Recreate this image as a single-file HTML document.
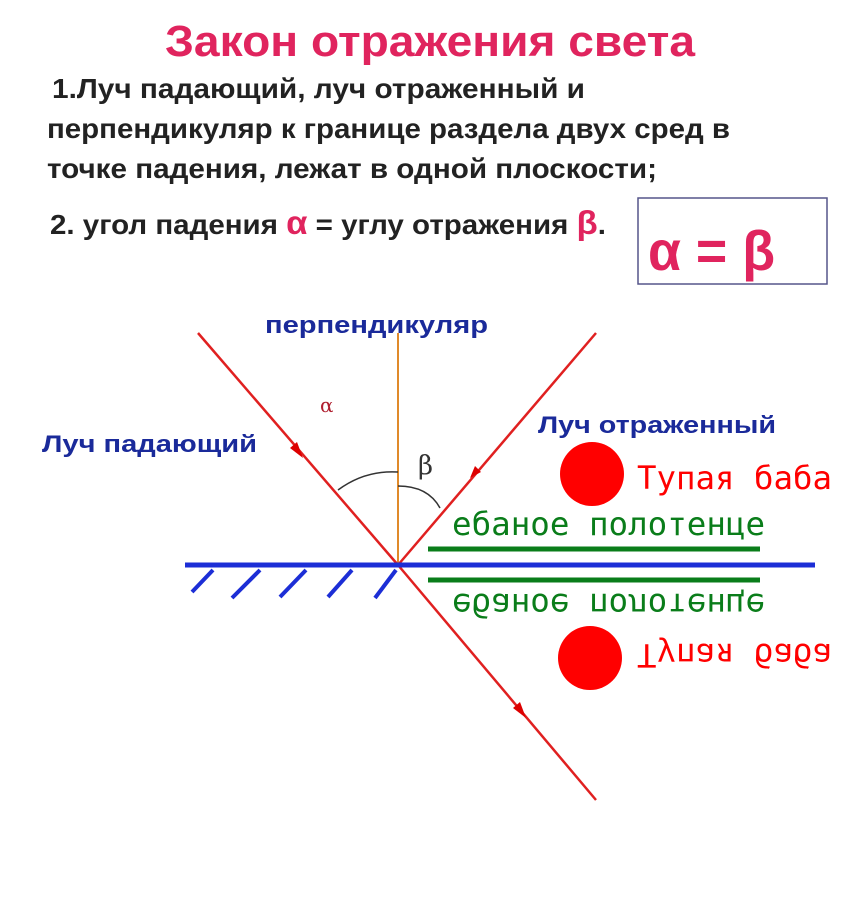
<!DOCTYPE html>
<html><head><meta charset="utf-8"><style>
html,body{margin:0;padding:0;background:#fff;}
svg{display:block}
</style></head><body>
<svg width="853" height="900" viewBox="0 0 853 900" xmlns="http://www.w3.org/2000/svg">
<text x="165" y="56" textLength="530" lengthAdjust="spacingAndGlyphs" font-family="Liberation Sans, sans-serif" font-weight="bold" font-size="44" fill="#e0245e">Закон отражения света</text>
<g font-family="Liberation Sans, sans-serif" font-weight="bold" font-size="28" fill="#222">
<text x="52" y="98" textLength="533" lengthAdjust="spacingAndGlyphs">1.Луч падающий, луч отраженный и</text>
<text x="47" y="138" textLength="683" lengthAdjust="spacingAndGlyphs">перпендикуляр к границе раздела двух сред в</text>
<text x="47" y="178" textLength="610" lengthAdjust="spacingAndGlyphs">точке падения, лежат в одной плоскости;</text>
<text x="50" y="234" textLength="556" lengthAdjust="spacingAndGlyphs">2. угол падения <tspan fill="#e0245e" font-size="33">α</tspan> = углу отражения <tspan fill="#e0245e" font-size="33">β</tspan>.</text>
</g>
<rect x="638" y="198" width="189" height="86" fill="#fff" stroke="#55558a" stroke-width="1.5"/>
<text x="648" y="270" textLength="127" lengthAdjust="spacingAndGlyphs" font-family="Liberation Sans, sans-serif" font-weight="bold" font-size="56" fill="#e0245e">α = β</text>

<line x1="398" y1="333" x2="398" y2="565" stroke="#e08a2a" stroke-width="2"/>
<line x1="198" y1="333" x2="398" y2="565" stroke="#e02020" stroke-width="2.5"/>
<line x1="398" y1="565" x2="596" y2="333" stroke="#e02020" stroke-width="2.5"/>
<line x1="398" y1="565" x2="596" y2="800" stroke="#e02020" stroke-width="2.5"/>
<polygon points="303,458 290,448 297,442" fill="#d00"/>
<polygon points="470,478 475,466 481,472" fill="#d00"/>
<polygon points="526,718 513,708 520,702" fill="#d00"/>
<path d="M338 490 Q365 470 398 472" fill="none" stroke="#333" stroke-width="1.5"/>
<path d="M398 486 Q428 486 440 508" fill="none" stroke="#333" stroke-width="1.5"/>
<text x="320" y="412" font-family="DejaVu Serif, serif" font-size="20" fill="#b02030">α</text>
<text x="418" y="474" font-family="DejaVu Serif, serif" font-size="26" fill="#333">β</text>
<g font-family="Liberation Sans, sans-serif" font-weight="bold" font-size="24" fill="#1a2a9a">
<text x="265" y="333" textLength="223" lengthAdjust="spacingAndGlyphs">перпендикуляр</text>
<text x="42" y="452" textLength="215" lengthAdjust="spacingAndGlyphs">Луч падающий</text>
<text x="538" y="433" textLength="238" lengthAdjust="spacingAndGlyphs">Луч отраженный</text>
</g>
<line x1="185" y1="565" x2="815" y2="565" stroke="#1c2ed6" stroke-width="5"/>
<g stroke="#1c2ed6" stroke-width="4">
<line x1="213" y1="570" x2="192" y2="592"/>
<line x1="260" y1="570" x2="232" y2="598"/>
<line x1="306" y1="570" x2="280" y2="597"/>
<line x1="352" y1="570" x2="328" y2="597"/>
<line x1="396" y1="570" x2="375" y2="598"/>
</g>
<line x1="428" y1="549" x2="760" y2="549" stroke="#0a7d1a" stroke-width="5"/>
<line x1="428" y1="580" x2="760" y2="580" stroke="#0a7d1a" stroke-width="5"/>
<text x="452" y="535" textLength="313" lengthAdjust="spacingAndGlyphs" font-family="DejaVu Sans Mono, monospace" font-size="32" fill="#0a7d1a">ебаное полотенце</text>
<g transform="translate(0,1129) scale(1,-1)">
<text x="452" y="535" textLength="313" lengthAdjust="spacingAndGlyphs" font-family="DejaVu Sans Mono, monospace" font-size="32" fill="#0a7d1a">ебаное полотенце</text>
</g>
<circle cx="592" cy="474" r="32" fill="#f00"/>
<circle cx="590" cy="658" r="32" fill="#f00"/>
<text x="637" y="489" textLength="195" lengthAdjust="spacingAndGlyphs" font-family="DejaVu Sans Mono, monospace" font-size="32" fill="#f00">Тупая баба</text>
<g transform="translate(0,1133) scale(1,-1)">
<text x="637" y="489" textLength="195" lengthAdjust="spacingAndGlyphs" font-family="DejaVu Sans Mono, monospace" font-size="32" fill="#f00">Тупая баба</text>
</g>
</svg>
</body></html>
